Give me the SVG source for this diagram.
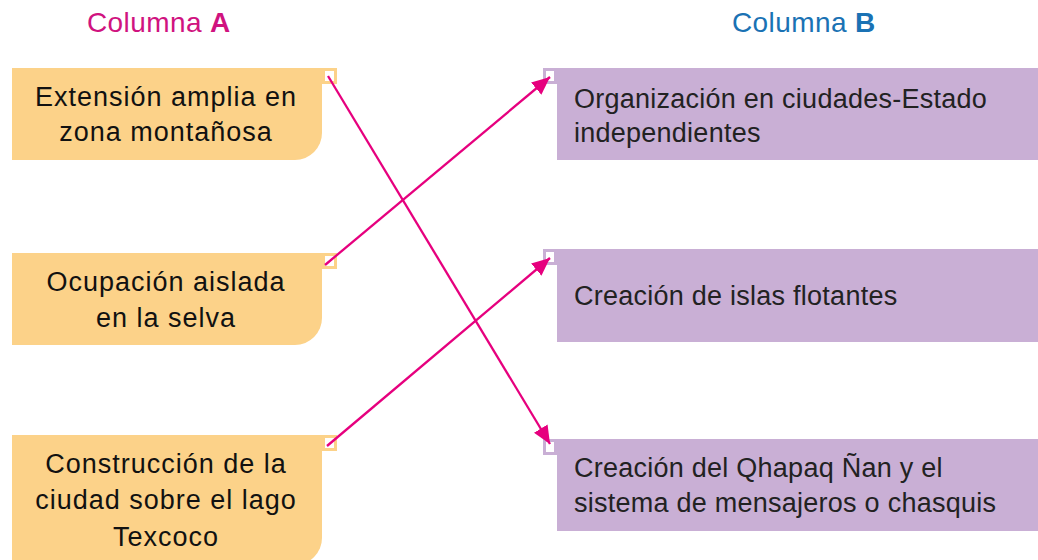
<svg xmlns="http://www.w3.org/2000/svg" width="1038" height="560" viewBox="0 0 1038 560">
<style>
.a{fill:#fcd289}
.b{fill:#c9afd5}
.sqa{fill:#fff;stroke:#fcd289;stroke-width:3}
.sqb{fill:#fff;stroke:#c9afd5;stroke-width:3}
.ta{font-family:"Liberation Sans",Arial,sans-serif;font-size:27px;letter-spacing:1px;fill:#111;text-anchor:middle}
.tb{font-family:"Liberation Sans",Arial,sans-serif;font-size:27px;letter-spacing:0.25px;fill:#222}
.h{font-family:"Liberation Sans",Arial,sans-serif;font-size:28px;letter-spacing:0.4px}
.c{stroke:#e6007e;stroke-width:2.3;fill:none;marker-end:url(#ah)}
</style>
<defs>
<marker id="ah" markerUnits="userSpaceOnUse" markerWidth="20" markerHeight="16" refX="18" refY="8" orient="auto">
<path d="M0,0 L18,8 L0,16 Z" fill="#e6007e"/>
</marker>
</defs>
<rect width="1038" height="560" fill="#fff"/>
<text class="h" x="87" y="32" fill="#d0137f">Columna <tspan font-weight="bold">A</tspan></text>
<text class="h" x="732" y="32" fill="#1a72b4">Columna <tspan font-weight="bold">B</tspan></text>
<g id="a1">
<path class="a" d="M12,68 H322 V133 A27,27 0 0 1 295,160 H12 Z"/>
<rect class="sqa" x="323.5" y="69.5" width="12" height="13"/>
<text class="ta" x="166" y="106">Extensión amplia en</text>
<text class="ta" x="166" y="141">zona montañosa</text>
</g>
<g id="a2">
<path class="a" d="M12,253 H322 V318 A27,27 0 0 1 295,345 H12 Z"/>
<rect class="sqa" x="323.5" y="254.5" width="12" height="13"/>
<text class="ta" x="166" y="291">Ocupación aislada</text>
<text class="ta" x="166" y="327">en la selva</text>
</g>
<g id="a3">
<path class="a" d="M12,435 H322 V538 A27,27 0 0 1 295,565 H12 Z"/>
<rect class="sqa" x="323.5" y="436.5" width="12" height="13"/>
<text class="ta" x="166" y="473">Construcción de la</text>
<text class="ta" x="166" y="509">ciudad sobre el lago</text>
<text class="ta" x="166" y="546">Texcoco</text>
</g>
<g id="b1">
<rect class="b" x="557" y="68" width="481" height="92"/>
<rect class="sqb" x="544.5" y="69.5" width="11" height="13"/>
<text class="tb" x="574" y="108">Organización en ciudades-Estado</text>
<text class="tb" x="574" y="142">independientes</text>
</g>
<g id="b2">
<rect class="b" x="557" y="249" width="481" height="93"/>
<rect class="sqb" x="544.5" y="250.5" width="11" height="13"/>
<text class="tb" x="574" y="305">Creación de islas flotantes</text>
</g>
<g id="b3">
<rect class="b" x="557" y="439" width="481" height="92"/>
<rect class="sqb" x="544.5" y="440.5" width="11" height="13"/>
<text class="tb" x="574" y="477">Creación del Qhapaq Ñan y el</text>
<text class="tb" x="574" y="512">sistema de mensajeros o chasquis</text>
</g>
<g id="connectors">
<line class="c" x1="328" y1="76" x2="550" y2="444"/>
<line class="c" x1="325" y1="265" x2="550" y2="77"/>
<line class="c" x1="327" y1="446" x2="550" y2="258"/>
</g>
</svg>
